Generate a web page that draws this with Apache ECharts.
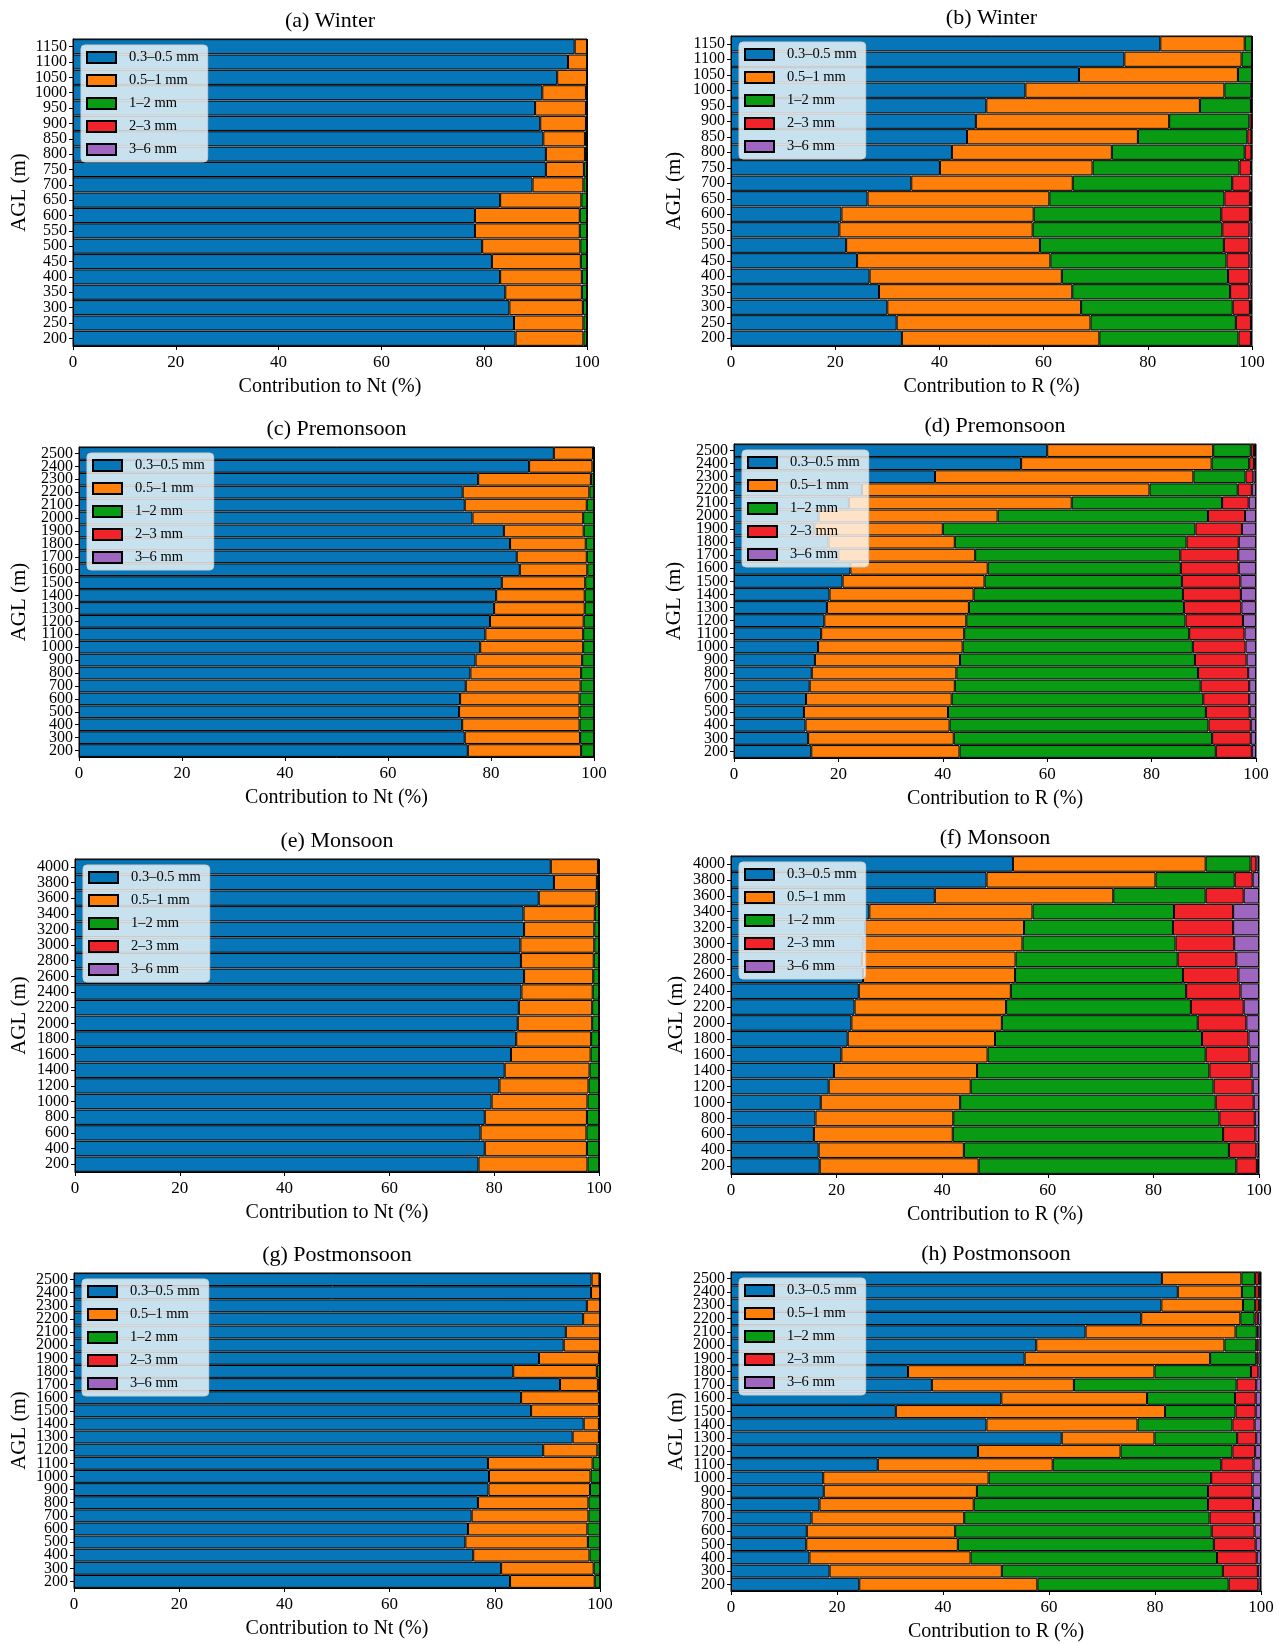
<!DOCTYPE html>
<html>
<head>
<meta charset="utf-8">
<title>Drop size contribution to Nt and R by altitude and season</title>
<script src="https://cdn.jsdelivr.net/npm/echarts@6/dist/echarts.min.js"></script>
<style>
  html, body { margin: 0; padding: 0; background: #ffffff; }
  #chart { width: 1282px; height: 1644px; }
</style>
</head>
<body>
<div id="chart"></div>
<script>
// Drop diameter classes and their fill colours
const sizeBins = ['0.3–0.5 mm', '0.5–1 mm', '1–2 mm', '2–3 mm', '3–6 mm'];
const binColors = ['#0776b8', '#fe7f0a', '#0a9b14', '#f0222a', '#9e66bf'];

// Altitude levels above ground (m), bottom to top
const heightsWinter = ['200','250','300','350','400','450','500','550','600','650','700','750','800','850','900','950','1000','1050','1100','1150'];
const heightsPremonsoon = ['200','300','400','500','600','700','800','900','1000','1100','1200','1300','1400','1500','1600','1700','1800','1900','2000','2100','2200','2300','2400','2500'];
const heightsMonsoon = ['200','400','600','800','1000','1200','1400','1600','1800','2000','2200','2400','2600','2800','3000','3200','3400','3600','3800','4000'];
const heightsPostmonsoon = ['200','300','400','500','600','700','800','900','1000','1100','1200','1300','1400','1500','1600','1700','1800','1900','2000','2100','2200','2300','2400','2500'];

// Percent contribution per class (rows: 0.3–0.5, 0.5–1, 1–2, 2–3, 3–6 mm), bottom to top
const winterNt = [
  [86.1, 85.8, 84.9, 84.1, 83.1, 81.5, 79.6, 78.2, 78.2, 83.1, 89.4, 92.0, 92.0, 91.5, 90.9, 89.9, 91.3, 94.2, 96.3, 97.6],
  [13.2, 13.5, 14.3, 14.9, 15.9, 17.3, 19.1, 20.4, 20.4, 15.8, 9.9, 7.4, 7.6, 8.1, 8.9, 9.9, 8.5, 5.8, 3.7, 2.4],
  [0.7, 0.7, 0.8, 1.0, 1.0, 1.2, 1.3, 1.4, 1.4, 1.1, 0.7, 0.6, 0.4, 0.4, 0.2, 0.2, 0.2, 0, 0, 0],
  [0, 0, 0, 0, 0, 0, 0, 0, 0, 0, 0, 0, 0, 0, 0, 0, 0, 0, 0, 0],
  [0, 0, 0, 0, 0, 0, 0, 0, 0, 0, 0, 0, 0, 0, 0, 0, 0, 0, 0, 0]
];
const winterR = [
  [32.8, 31.8, 30.0, 28.4, 26.6, 24.2, 22.1, 20.8, 21.2, 26.2, 34.6, 40.1, 42.4, 45.3, 47.0, 49.0, 56.5, 66.8, 75.5, 82.4],
  [37.9, 37.2, 37.2, 37.1, 36.9, 37.1, 37.2, 37.1, 36.9, 34.9, 31.0, 29.3, 30.7, 32.8, 37.1, 41.0, 38.2, 30.5, 22.5, 16.2],
  [26.7, 27.9, 29.1, 30.3, 31.9, 33.8, 35.3, 36.4, 36.0, 33.6, 30.6, 28.2, 25.5, 21.0, 15.4, 9.8, 5.2, 2.7, 2.0, 1.4],
  [2.4, 2.9, 3.3, 3.7, 4.1, 4.4, 4.9, 5.2, 5.5, 4.9, 3.5, 2.2, 1.3, 0.8, 0.5, 0.2, 0.1, 0, 0, 0],
  [0.2, 0.2, 0.4, 0.5, 0.5, 0.5, 0.5, 0.5, 0.4, 0.4, 0.3, 0.2, 0.1, 0.1, 0, 0, 0, 0, 0, 0]
];
const premonsoonNt = [
  [75.5, 74.9, 74.4, 73.8, 74.0, 75.1, 76.0, 77.0, 77.9, 78.9, 79.8, 80.6, 81.0, 82.1, 85.6, 85.0, 83.7, 82.5, 76.4, 74.9, 74.5, 77.5, 87.4, 92.2],
  [22.0, 22.4, 22.8, 23.4, 23.2, 22.3, 21.5, 20.7, 20.0, 19.0, 18.2, 17.6, 17.2, 16.2, 13.1, 13.6, 14.7, 15.5, 21.5, 23.7, 24.6, 21.9, 12.3, 7.6],
  [2.5, 2.7, 2.8, 2.8, 2.8, 2.6, 2.5, 2.3, 2.1, 2.1, 2.0, 1.8, 1.8, 1.7, 1.3, 1.4, 1.6, 2.0, 2.1, 1.4, 0.9, 0.6, 0.3, 0.2],
  [0, 0, 0, 0, 0, 0, 0, 0, 0, 0, 0, 0, 0, 0, 0, 0, 0, 0, 0, 0, 0, 0, 0, 0],
  [0, 0, 0, 0, 0, 0, 0, 0, 0, 0, 0, 0, 0, 0, 0, 0, 0, 0, 0, 0, 0, 0, 0, 0]
];
const premonsoonR = [
  [14.8, 14.2, 13.7, 13.4, 13.8, 14.5, 14.9, 15.5, 16.1, 16.7, 17.3, 17.8, 18.3, 20.8, 22.3, 20.0, 18.1, 15.4, 16.2, 22.0, 24.5, 38.5, 55.0, 60.0],
  [28.4, 27.9, 27.6, 27.6, 27.9, 27.8, 27.7, 27.8, 27.7, 27.4, 27.2, 27.2, 27.6, 27.2, 26.3, 26.2, 24.2, 24.6, 34.3, 42.7, 55.1, 49.5, 36.5, 31.8],
  [49.1, 49.5, 49.6, 49.4, 48.2, 47.1, 46.3, 45.0, 44.1, 43.1, 42.0, 41.2, 40.1, 37.8, 37.0, 39.3, 44.4, 48.4, 40.3, 28.8, 16.9, 10.0, 7.2, 7.2],
  [6.9, 7.4, 8.1, 8.4, 8.8, 9.3, 9.6, 9.9, 10.1, 10.6, 11.0, 11.0, 11.1, 11.2, 11.1, 11.1, 10.0, 8.9, 7.1, 5.1, 2.7, 1.5, 0.9, 0.6],
  [0.8, 1.0, 1.0, 1.2, 1.3, 1.3, 1.5, 1.8, 2.0, 2.2, 2.5, 2.8, 2.9, 3.0, 3.3, 3.4, 3.3, 2.7, 2.1, 1.4, 0.8, 0.5, 0.4, 0.4]
];
const monsoonNt = [
  [77.0, 78.2, 77.4, 78.2, 79.5, 81.0, 82.0, 83.2, 84.2, 84.5, 84.7, 85.2, 85.7, 85.1, 85.0, 85.7, 85.6, 88.5, 91.4, 90.8],
  [20.8, 19.5, 20.2, 19.5, 18.3, 17.0, 16.2, 15.2, 14.3, 14.2, 14.0, 13.6, 13.2, 13.9, 14.1, 13.4, 13.6, 11.0, 8.2, 9.0],
  [2.2, 2.3, 2.4, 2.3, 2.2, 2.0, 1.8, 1.6, 1.5, 1.3, 1.3, 1.2, 1.1, 1.0, 0.9, 0.9, 0.8, 0.5, 0.4, 0.2],
  [0, 0, 0, 0, 0, 0, 0, 0, 0, 0, 0, 0, 0, 0, 0, 0, 0, 0, 0, 0],
  [0, 0, 0, 0, 0, 0, 0, 0, 0, 0, 0, 0, 0, 0, 0, 0, 0, 0, 0, 0]
];
const monsoonR = [
  [16.8, 16.6, 15.7, 16.0, 17.0, 18.5, 19.5, 20.9, 22.1, 22.8, 23.4, 24.2, 25.0, 24.8, 25.1, 25.4, 26.2, 38.6, 48.4, 53.4],
  [30.1, 27.5, 26.3, 26.1, 26.4, 26.9, 27.1, 27.7, 27.9, 28.5, 28.7, 28.8, 28.8, 29.1, 30.1, 30.1, 30.9, 33.8, 32.0, 36.5],
  [48.8, 50.2, 51.2, 50.4, 48.4, 46.0, 44.0, 41.3, 39.2, 37.1, 35.0, 33.2, 31.8, 30.7, 29.0, 28.2, 26.8, 17.5, 15.0, 8.5],
  [3.9, 5.2, 6.1, 6.7, 7.2, 7.4, 8.0, 8.3, 8.8, 9.2, 10.0, 10.3, 10.5, 11.1, 11.1, 11.4, 11.2, 7.2, 3.4, 1.1],
  [0.4, 0.5, 0.7, 0.8, 1.0, 1.2, 1.4, 1.8, 2.0, 2.4, 2.9, 3.5, 3.9, 4.3, 4.7, 4.9, 4.9, 2.9, 1.2, 0.5]
];
const postmonsoonNt = [
  [82.9, 81.2, 75.9, 74.4, 74.9, 75.6, 76.8, 78.8, 78.9, 78.7, 89.2, 94.8, 96.9, 86.9, 85.0, 92.4, 83.5, 88.4, 93.1, 93.5, 96.8, 97.5, 98.3, 98.4],
  [16.1, 17.6, 22.1, 23.3, 22.7, 22.2, 21.0, 19.3, 19.3, 19.9, 10.3, 5.0, 2.9, 12.9, 14.8, 7.2, 15.9, 11.4, 6.9, 6.5, 3.2, 2.5, 1.7, 1.5],
  [1.0, 1.2, 2.0, 2.3, 2.4, 2.2, 2.2, 1.9, 1.8, 1.4, 0.5, 0.2, 0.2, 0.2, 0.2, 0.4, 0.6, 0.2, 0, 0, 0, 0, 0, 0.1],
  [0, 0, 0, 0, 0, 0, 0, 0, 0, 0, 0, 0, 0, 0, 0, 0, 0, 0, 0, 0, 0, 0, 0, 0],
  [0, 0, 0, 0, 0, 0, 0, 0, 0, 0, 0, 0, 0, 0, 0, 0, 0, 0, 0, 0, 0, 0, 0, 0]
];
const postmonsoonR = [
  [24.2, 18.6, 14.8, 14.2, 14.3, 15.2, 16.7, 17.5, 17.4, 27.7, 46.6, 62.4, 48.2, 31.1, 51.0, 37.9, 33.4, 55.4, 57.6, 66.9, 77.4, 81.2, 84.3, 81.3],
  [33.6, 32.5, 30.4, 28.6, 28.0, 28.8, 29.1, 28.9, 31.2, 33.0, 26.9, 17.5, 28.5, 50.8, 27.5, 26.8, 46.5, 35.0, 35.5, 28.3, 18.7, 15.4, 12.1, 15.0],
  [36.1, 41.7, 46.5, 48.3, 48.4, 46.3, 44.2, 43.6, 42.0, 31.8, 21.1, 15.6, 17.9, 13.3, 16.6, 30.7, 18.2, 8.7, 6.0, 4.0, 2.7, 2.3, 2.5, 2.6],
  [5.6, 6.6, 7.5, 7.9, 8.1, 8.4, 8.5, 8.4, 7.8, 6.1, 4.3, 3.6, 4.2, 3.8, 3.9, 3.7, 1.4, 0.4, 0.4, 0.3, 0.6, 0.7, 0.7, 0.7],
  [0.5, 0.6, 0.8, 1.0, 1.2, 1.3, 1.5, 1.6, 1.6, 1.4, 1.1, 0.9, 1.2, 1.0, 1.0, 0.9, 0.5, 0.5, 0.5, 0.5, 0.6, 0.4, 0.4, 0.4]
];

const SERIF = '"Liberation Serif", "DejaVu Serif", serif';
const NT_LABEL = 'Contribution to Nt (%)';
const R_LABEL = 'Contribution to R (%)';

// Panel layout: plot box in pixels, plus the x position of the rotated y-axis title
const panels = [
  { title: '(a) Winter',      heights: heightsWinter,      data: winterNt,      xName: NT_LABEL, box: [73, 39, 514, 307],  yNameX: 19 },
  { title: '(b) Winter',      heights: heightsWinter,      data: winterR,       xName: R_LABEL,  box: [731, 36, 521, 310], yNameX: 674 },
  { title: '(c) Premonsoon',  heights: heightsPremonsoon,  data: premonsoonNt,  xName: NT_LABEL, box: [79, 447, 515, 310], yNameX: 19 },
  { title: '(d) Premonsoon',  heights: heightsPremonsoon,  data: premonsoonR,   xName: R_LABEL,  box: [734, 444, 522, 314], yNameX: 674 },
  { title: '(e) Monsoon',     heights: heightsMonsoon,     data: monsoonNt,     xName: NT_LABEL, box: [75, 859, 524, 313], yNameX: 19 },
  { title: '(f) Monsoon',     heights: heightsMonsoon,     data: monsoonR,      xName: R_LABEL,  box: [731, 856, 528, 318], yNameX: 676 },
  { title: '(g) Postmonsoon', heights: heightsPostmonsoon, data: postmonsoonNt, xName: NT_LABEL, box: [74, 1273, 526, 315], yNameX: 19 },
  { title: '(h) Postmonsoon', heights: heightsPostmonsoon, data: postmonsoonR,  xName: R_LABEL,  box: [731, 1272, 530, 319], yNameX: 676 }
];

const option = {
  animation: false,
  backgroundColor: '#ffffff',
  textStyle: { fontFamily: SERIF, color: '#000' },
  title: [], grid: [], xAxis: [], yAxis: [], legend: [], series: []
};

panels.forEach((p, i) => {
  const [left, top, width, height] = p.box;

  option.title.push({
    text: p.title,
    left: left + width / 2,
    top: top - 29,
    textAlign: 'center',
    padding: 0,
    textStyle: { fontFamily: SERIF, fontSize: 22, fontWeight: 'normal', color: '#000' }
  });

  option.grid.push({
    left: left, top: top, width: width, height: height,
    show: true, borderColor: '#000', borderWidth: 1, backgroundColor: 'transparent'
  });

  option.xAxis.push({
    type: 'value', gridIndex: i, min: 0, max: 100, interval: 20,
    name: p.xName, nameLocation: 'middle', nameGap: 31,
    nameTextStyle: { fontFamily: SERIF, fontSize: 20, color: '#000' },
    axisLine: { show: true, lineStyle: { color: '#000', width: 1 } },
    axisTick: { show: true, length: 4, lineStyle: { color: '#000' } },
    axisLabel: { fontFamily: SERIF, fontSize: 17, color: '#000', margin: 8 },
    splitLine: { show: false }
  });

  option.yAxis.push({
    type: 'category', gridIndex: i, data: p.heights,
    name: 'AGL (m)', nameLocation: 'middle', nameRotate: 90,
    nameGap: left - p.yNameX - 11,
    nameTextStyle: { fontFamily: SERIF, fontSize: 21, color: '#000' },
    axisLine: { show: true, lineStyle: { color: '#000', width: 1 } },
    axisTick: { show: true, alignWithLabel: true, interval: 0, length: 4, lineStyle: { color: '#000' } },
    axisLabel: { interval: 0, fontFamily: SERIF, fontSize: 16, color: '#000', margin: 6, lineHeight: 12 },
    splitLine: { show: false }
  });

  option.legend.push({
    data: sizeBins,
    orient: 'vertical',
    left: left + 8,
    top: top + 6,
    icon: 'rect',
    itemWidth: 29,
    itemHeight: 11,
    itemGap: 8,
    padding: [5, 9, 5, 5],
    backgroundColor: 'rgba(255,255,255,0.78)',
    borderColor: '#cccccc',
    borderWidth: 1,
    borderRadius: 4,
    selectedMode: false,
    textStyle: { fontFamily: SERIF, fontSize: 14.5, color: '#000', lineHeight: 14, padding: [0, 0, 0, 8] }
  });

  sizeBins.forEach((bin, k) => {
    option.series.push({
      type: 'bar',
      name: bin,
      xAxisIndex: i,
      yAxisIndex: i,
      stack: 'panel' + i,
      data: p.data[k],
      barCategoryGap: '2%',
      itemStyle: { color: binColors[k], borderColor: '#000', borderWidth: 1 },
      emphasis: { disabled: true },
      silent: true
    });
  });
});

const chart = echarts.init(document.getElementById('chart'), null, { renderer: 'canvas', width: 1282, height: 1644 });
chart.setOption(option);
</script>
</body>
</html>
